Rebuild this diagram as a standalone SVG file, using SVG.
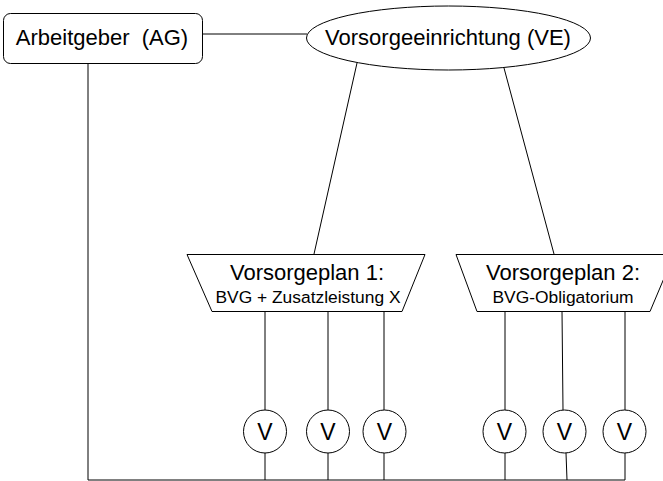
<svg xmlns="http://www.w3.org/2000/svg" width="663" height="481" viewBox="0 0 663 481">
<style>
.s{fill:#fff;stroke:#000;stroke-width:1}
.l{fill:none;stroke:#000;stroke-width:1}
text{font-family:"Liberation Sans",Arial,sans-serif;fill:#000;text-anchor:middle}
.t22{font-size:22px}
.t17{font-size:17.4px}
.tv{font-size:23px}
</style>
<rect width="663" height="481" fill="#fff"/>
<g id="connectors">
<line class="l" x1="202" y1="34" x2="307" y2="34"/>
<line class="l" x1="88" y1="63" x2="88" y2="480"/>
<line class="l" x1="88" y1="480" x2="625" y2="480"/>
<line class="l" x1="357" y1="63" x2="314" y2="254"/>
<line class="l" x1="504" y1="68" x2="554" y2="254"/>
<line class="l" x1="265" y1="311" x2="265" y2="410"/>
<line class="l" x1="265" y1="453" x2="265" y2="480"/>
<line class="l" x1="328" y1="311" x2="328" y2="410"/>
<line class="l" x1="328" y1="453" x2="328" y2="480"/>
<line class="l" x1="384" y1="311" x2="384" y2="410"/>
<line class="l" x1="384" y1="453" x2="384" y2="480"/>
<line class="l" x1="505" y1="311" x2="505" y2="410"/>
<line class="l" x1="505" y1="453" x2="505" y2="480"/>
<line class="l" x1="562" y1="311" x2="563" y2="410"/>
<line class="l" x1="566" y1="453" x2="567" y2="480"/>
<line class="l" x1="625" y1="311" x2="625" y2="410"/>
<line class="l" x1="625" y1="453" x2="625" y2="480"/>
</g>
<g id="ag">
<rect class="s" x="3.5" y="13.5" width="199" height="50" rx="7"/>
<text class="t22" x="102" y="45" xml:space="preserve">Arbeitgeber  (AG)</text>
</g>
<g id="ve">
<ellipse class="s" cx="448.5" cy="38" rx="142" ry="32"/>
<text class="t22" x="448" y="45">Vorsorgeeinrichtung (VE)</text>
</g>
<g id="plan1">
<polygon class="s" points="187,254.5 425,254.5 402,311.5 212,311.5"/>
<text class="t22" x="307" y="280">Vorsorgeplan 1:</text>
<text class="t17" x="308" y="303">BVG + Zusatzleistung X</text>
</g>
<g id="plan2">
<polygon class="s" points="456,254.5 674,254.5 650,311.5 477,311.5"/>
<text class="t22" x="563" y="280">Vorsorgeplan 2:</text>
<text class="t17" x="563" y="303">BVG-Obligatorium</text>
</g>
<g id="v1"><circle class="s" cx="265" cy="431.5" r="21.5"/><text class="tv" x="265" y="440">V</text></g>
<g id="v2"><circle class="s" cx="328" cy="431.5" r="21.5"/><text class="tv" x="328" y="440">V</text></g>
<g id="v3"><circle class="s" cx="384.5" cy="431.5" r="21.5"/><text class="tv" x="384.5" y="440">V</text></g>
<g id="v4"><circle class="s" cx="504.5" cy="431.5" r="21.5"/><text class="tv" x="504.5" y="440">V</text></g>
<g id="v5"><circle class="s" cx="564.5" cy="431.5" r="21.5"/><text class="tv" x="564.5" y="440">V</text></g>
<g id="v6"><circle class="s" cx="624.5" cy="431.5" r="21.5"/><text class="tv" x="624.5" y="440">V</text></g>
</svg>
